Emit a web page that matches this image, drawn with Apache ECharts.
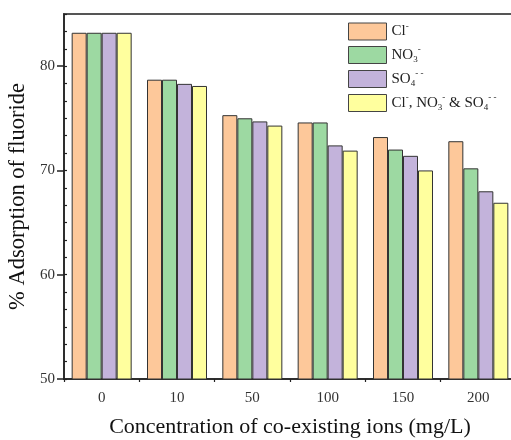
<!DOCTYPE html>
<html>
<head>
<meta charset="utf-8">
<style>html,body{margin:0;padding:0;background:#fff}#c{width:511px;height:440px}</style>
<script src="https://cdn.jsdelivr.net/npm/echarts@6/dist/echarts.min.js"></script>
</head>
<body>
<div id="c"></div>
<script>
var categories = ['0', '10', '50', '100', '150', '200'];
var seriesNames = ['Cl', 'NO3', 'SO4', 'Mix'];
var clValues  = [83.2, 78.7, 75.3, 74.6, 73.2, 72.8];
var no3Values = [83.2, 78.7, 75.0, 74.6, 72.0, 70.2];
var so4Values = [83.2, 78.3, 74.7, 72.4, 71.4, 68.0];
var mixValues = [83.2, 78.1, 74.3, 71.9, 70.0, 66.9];
var yTickValues = [50, 60, 70, 80];
var colors = ['#FDC89A', '#9DD9A2', '#C3B3DB', '#FFFF9E'];

var FONT = '"Liberation Serif", "DejaVu Serif", serif';
var chart = echarts.init(document.getElementById('c'));

var legendLabels = {
  'Cl': '{n|Cl}{sup|-}',
  'NO3': '{n|NO}{sub|3}{sup|-}',
  'SO4': '{n|SO}{sub|4}{sup|- -}',
  'Mix': '{n|Cl}{sup|-}{n|, NO}{sub|3}{sup|-}{n| & SO}{sub|4}{sup|- -}'
};

var allValues = [clValues, no3Values, so4Values, mixValues];
var series = seriesNames.map(function (name, i) {
  return {
    name: name,
    type: 'bar',
    data: allValues[i],
    barWidth: 15,
    barGap: '0%',
    itemStyle: { color: colors[i], borderColor: '#333', borderWidth: 1 }
  };
});

chart.setOption({
  animation: false,
  grid: { left: 64, right: -5, top: 14, bottom: 61, outerBoundsMode: 'none', containLabel: false, show: true, borderColor: '#555', borderWidth: 2, backgroundColor: 'transparent' },
  legend: {
    left: 343, top: 17,
    orient: 'vertical',
    itemWidth: 38, itemHeight: 17, itemGap: 5,
    icon: 'rect',
    itemStyle: { borderColor: '#444', borderWidth: 1 },
    formatter: function (n) { return legendLabels[n]; },
    textStyle: {
      fontFamily: FONT, color: '#222',
      rich: {
        n: { fontFamily: FONT, fontSize: 15, lineHeight: 19, color: '#222' },
        sup: { fontFamily: FONT, fontSize: 9, lineHeight: 10, verticalAlign: 'top', color: '#222' },
        sub: { fontFamily: FONT, fontSize: 9, lineHeight: 9, verticalAlign: 'bottom', color: '#222' }
      }
    },
    data: seriesNames
  },
  xAxis: [{
    type: 'category',
    data: categories,
    name: 'Concentration of co-existing ions (mg/L)',
    nameLocation: 'middle', nameGap: 37,
    nameTextStyle: { fontFamily: FONT, fontSize: 22, color: '#111' },
    axisLine: { lineStyle: { color: '#222', width: 1.5 } },
    axisTick: { alignWithLabel: true, length: 6, lineStyle: { color: '#222', width: 1.5 } },
    axisLabel: { fontFamily: FONT, fontSize: 15, color: '#333', margin: 12 }
  }, {
    type: 'category',
    data: categories,
    position: 'bottom',
    axisLine: { show: false },
    axisTick: { show: true, length: 3, lineStyle: { color: '#222', width: 1.2 } },
    axisLabel: { show: false }
  }],
  yAxis: [{
    type: 'value',
    min: 50, max: 85,
    name: '% Adsorption of fluoride',
    nameLocation: 'middle', nameGap: 31,
    nameTextStyle: { fontFamily: FONT, fontSize: 22.5, color: '#111' },
    axisLine: { show: true, lineStyle: { color: '#222', width: 1.5 } },
    axisTick: { show: true, length: 7, customValues: yTickValues, lineStyle: { color: '#222', width: 1.5 } },
    axisLabel: { fontFamily: FONT, fontSize: 15, color: '#333', margin: 9, customValues: yTickValues },
    splitLine: { show: false }
  }, {
    type: 'value',
    min: 50, max: 85, interval: 10 / 6,
    position: 'left',
    axisLine: { show: false },
    axisTick: { show: true, inside: true, length: 3, lineStyle: { color: '#222', width: 1.2 } },
    axisLabel: { show: false },
    splitLine: { show: false }
  }],
  series: series
});
</script>
</body>
</html>
